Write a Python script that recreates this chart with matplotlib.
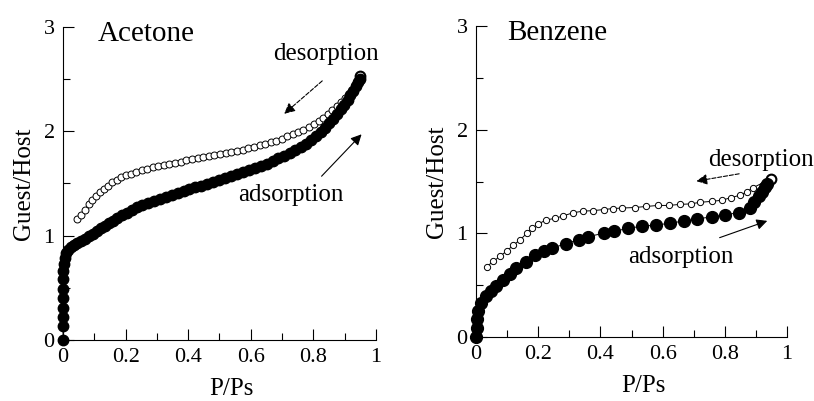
import numpy as np
from matplotlib import pyplot as plt
from matplotlib.ticker import MultipleLocator

plt.rcParams['font.family'] = ['Liberation Serif', 'DejaVu Serif']

# acetone isotherm
ace_ads_x = [0, 0, 0, 0, 0, 0, 0, 0.001, 0.003, 0.006, 0.01, 0.016, 0.024, 0.034, 0.045,
             0.057, 0.069, 0.082, 0.095, 0.108, 0.121, 0.134, 0.147, 0.160, 0.174, 0.188,
             0.203, 0.219, 0.236, 0.253, 0.271, 0.29, 0.309, 0.328, 0.347, 0.366, 0.385,
             0.404, 0.423, 0.442, 0.461, 0.48, 0.499, 0.518, 0.537, 0.556, 0.575, 0.594,
             0.613, 0.632, 0.651, 0.67, 0.688, 0.706, 0.724, 0.742, 0.759, 0.776, 0.792,
             0.808, 0.823, 0.837, 0.851, 0.864, 0.876, 0.888, 0.899, 0.909, 0.918, 0.927,
             0.935, 0.942, 0.948]
ace_ads_y = [0, 0.13, 0.22, 0.31, 0.40, 0.49, 0.58, 0.66, 0.73, 0.79, 0.83, 0.86, 0.89, 0.91,
             0.93, 0.95, 0.97, 0.995, 1.02, 1.045, 1.07, 1.095, 1.12, 1.145, 1.17, 1.195, 1.22,
             1.245, 1.27, 1.29, 1.31, 1.33, 1.35, 1.37, 1.39, 1.41, 1.43, 1.45, 1.465, 1.48,
             1.495, 1.515, 1.53, 1.55, 1.57, 1.59, 1.61, 1.63, 1.65, 1.67, 1.69, 1.715, 1.74,
             1.765, 1.79, 1.82, 1.85, 1.88, 1.915, 1.95, 1.99, 2.03, 2.075, 2.12, 2.165, 2.21,
             2.255, 2.30, 2.345, 2.39, 2.43, 2.47, 2.50]
ace_des_x = [0.045, 0.058, 0.070, 0.082, 0.094, 0.106, 0.118, 0.131, 0.144, 0.157, 0.171,
             0.186, 0.201, 0.217, 0.234, 0.251, 0.268, 0.286, 0.304, 0.322, 0.34, 0.358,
             0.376, 0.394, 0.412, 0.43, 0.448, 0.466, 0.484, 0.502, 0.52, 0.538, 0.556,
             0.574, 0.592, 0.61, 0.628, 0.646, 0.664, 0.682, 0.70, 0.717, 0.734, 0.751,
             0.768, 0.785, 0.801, 0.817, 0.832, 0.847, 0.861, 0.875, 0.888, 0.901, 0.913,
             0.924, 0.934, 0.943]
ace_des_y = [1.16, 1.20, 1.25, 1.30, 1.34, 1.38, 1.42, 1.45, 1.48, 1.51, 1.535, 1.56, 1.58,
             1.595, 1.61, 1.625, 1.64, 1.655, 1.668, 1.68, 1.69, 1.70, 1.71, 1.72, 1.73, 1.74,
             1.75, 1.76, 1.77, 1.78, 1.79, 1.80, 1.81, 1.82, 1.835, 1.85, 1.865, 1.88, 1.895,
             1.91, 1.93, 1.95, 1.97, 1.99, 2.015, 2.04, 2.07, 2.10, 2.13, 2.165, 2.20, 2.24,
             2.28, 2.32, 2.36, 2.40, 2.44, 2.48]
ace_end = (0.95, 2.53)

# benzene isotherm
ben_ads_x = [0, 0.002, 0.003, 0.007, 0.016, 0.032, 0.048, 0.064, 0.086, 0.11, 0.13, 0.16,
             0.19, 0.22, 0.245, 0.29, 0.33, 0.36, 0.41, 0.445, 0.49, 0.535, 0.58, 0.625,
             0.67, 0.71, 0.76, 0.80, 0.845, 0.88, 0.895, 0.91, 0.92, 0.93, 0.935]
ben_ads_y = [0, 0.09, 0.17, 0.25, 0.33, 0.40, 0.44, 0.49, 0.55, 0.61, 0.67, 0.72, 0.79, 0.83,
             0.86, 0.90, 0.94, 0.97, 1.0, 1.02, 1.05, 1.07, 1.08, 1.10, 1.12, 1.14, 1.16, 1.18,
             1.20, 1.25, 1.30, 1.36, 1.40, 1.45, 1.48]
ben_des_x = [0.034, 0.056, 0.077, 0.099, 0.12, 0.141, 0.163, 0.179, 0.2, 0.225, 0.254,
             0.281, 0.313, 0.345, 0.377, 0.41, 0.44, 0.47, 0.51, 0.547, 0.585, 0.62, 0.655,
             0.69, 0.72, 0.76, 0.79, 0.82, 0.85, 0.87, 0.89]
ben_des_y = [0.68, 0.73, 0.78, 0.83, 0.887, 0.935, 1.0, 1.05, 1.09, 1.13, 1.145, 1.17, 1.20,
             1.215, 1.22, 1.23, 1.24, 1.245, 1.25, 1.26, 1.27, 1.27, 1.28, 1.285, 1.30, 1.31,
             1.32, 1.345, 1.37, 1.40, 1.44]
ben_end = (0.95, 1.53)

xticks = [0, 0.2, 0.4, 0.6, 0.8, 1]
xticklabels = ['0', '0.2', '0.4', '0.6', '0.8', '1']
yticks = [0, 1, 2, 3]
yticklabels = ['0', '1', '2', '3']

fig = plt.figure(figsize=(8.14, 4.01), dpi=100)
ax1 = fig.add_axes([0.0774, 0.152, 0.3845, 0.781])
ax2 = fig.add_axes([0.5848, 0.1596, 0.382, 0.775])

def style(ax):
    ax.spines['top'].set_visible(False)
    ax.spines['right'].set_visible(False)
    ax.spines['left'].set_linewidth(0.8)
    ax.spines['bottom'].set_linewidth(0.8)
    ax.set_xticks(xticks)
    ax.set_xticklabels(xticklabels)
    ax.set_yticks(yticks)
    ax.set_yticklabels(yticklabels)
    ax.xaxis.set_minor_locator(MultipleLocator(0.1))
    ax.yaxis.set_minor_locator(MultipleLocator(0.5))
    ax.set_xlim(0, 1)
    ax.set_ylim(0, 3)
    ax.tick_params(which='both', direction='in', labelsize=16, width=0.8)
    ax.tick_params(which='major', length=8, pad=6)
    ax.tick_params(which='minor', length=5)
    ax.set_ylabel('Guest/Host', fontsize=18, labelpad=6)
    ax.set_xlabel('P/Ps', fontsize=18, labelpad=8)
    ax.xaxis.label.set_x(0.537)

style(ax1)
style(ax2)

# acetone
ax1.plot(ace_des_x + [ace_end[0]], ace_des_y + [ace_end[1]], '-', color='k', lw=0.6, zorder=2)
ax1.plot(ace_des_x, ace_des_y, 'o', ms=5, mfc='white', mec='k', mew=0.7, zorder=3)
ax1.plot(*ace_end, 'o', ms=7, mfc='white', mec='k', mew=1.5, zorder=4)
ax1.plot(ace_ads_x, ace_ads_y, 'o-', ms=7.5, color='k', lw=0.6, clip_on=False, zorder=5)
ax1.text(0.11, 2.93, 'Acetone', fontsize=21, va='center')
ax1.text(0.67, 2.74, 'desorption', fontsize=18, va='center')
ax1.text(0.56, 1.39, 'adsorption', fontsize=18, va='center')
ax1.annotate('', xy=(0.7, 2.15), xytext=(0.835, 2.5),
             arrowprops=dict(arrowstyle='-|>', linestyle='--', color='k', lw=0.8,
                             mutation_scale=16))
ax1.annotate('', xy=(0.96, 1.99), xytext=(0.82, 1.55),
             arrowprops=dict(arrowstyle='-|>', color='k', lw=0.8, mutation_scale=16))

# benzene
ax2.plot(ben_des_x + [ben_end[0]], ben_des_y + [ben_end[1]], 'o-', ms=4.5, mfc='white',
         mec='k', color='k', mew=0.7, lw=0.7, zorder=3)
ax2.plot(*ben_end, 'o', ms=7, mfc='white', mec='k', mew=1.5, zorder=4)
ax2.plot(ben_ads_x, ben_ads_y, 'o-', ms=8.5, color='k', lw=0.7, clip_on=False, zorder=5)
ax2.text(0.1, 2.93, 'Benzene', fontsize=21, va='center')
ax2.text(0.745, 1.71, 'desorption', fontsize=18, va='center')
ax2.text(0.49, 0.77, 'adsorption', fontsize=18, va='center')
ax2.annotate('', xy=(0.7, 1.5), xytext=(0.855, 1.58),
             arrowprops=dict(arrowstyle='-|>', linestyle='--', color='k', lw=0.8,
                             mutation_scale=16))
ax2.annotate('', xy=(0.945, 1.13), xytext=(0.775, 0.95),
             arrowprops=dict(arrowstyle='-|>', color='k', lw=0.8, mutation_scale=16))

plt.savefig('out.png', dpi=100)
